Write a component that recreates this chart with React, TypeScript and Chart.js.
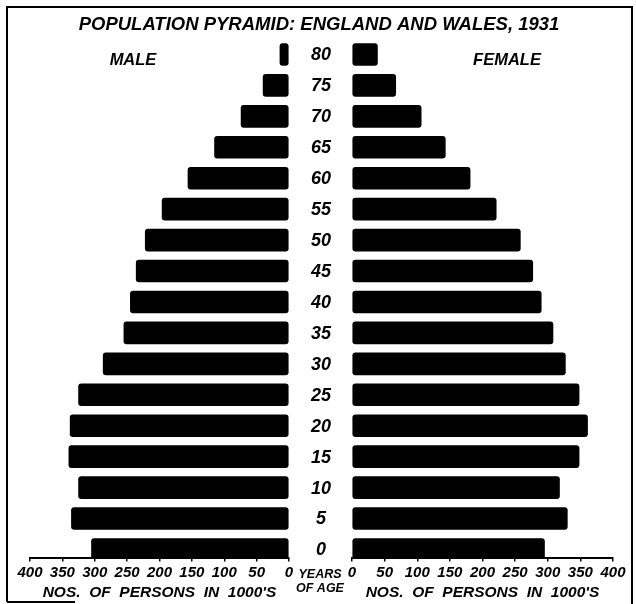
import React, { useEffect, useRef } from "react";
import { Chart, registerables } from "chart.js";

Chart.register(...registerables);

const AGES = [80, 75, 70, 65, 60, 55, 50, 45, 40, 35, 30, 25, 20, 15, 10, 5, 0];
const MALE = [14, 40, 74, 115, 156, 196, 222, 236, 245, 255, 287, 325, 338, 340, 325, 336, 305];
const FEMALE = [39, 67, 106, 143, 181, 221, 258, 277, 290, 308, 327, 348, 361, 348, 318, 330, 295];
const X_TICKS = [0, 50, 100, 150, 200, 250, 300, 350, 400];
const TITLE = "POPULATION PYRAMID: ENGLAND AND WALES, 1931";
const AXIS_TITLE = "NOS.  OF  PERSONS  IN  1000'S";
const MALE_LABEL = "MALE";
const FEMALE_LABEL = "FEMALE";
const AGE_TITLE = ["YEARS", "OF AGE"];

const FAMILY = '"Liberation Sans", Arial, sans-serif';
const W = 636;
const H = 604;

function font(size: number) {
  return `italic bold ${size}px ${FAMILY}`;
}

const textPlugin = {
  id: "pyramidText",
  afterDraw(chart: any) {
    const ctx = chart.ctx;
    const y = chart.scales.y;
    ctx.save();
    ctx.fillStyle = "#000";
    ctx.textAlign = "center";
    ctx.textBaseline = "middle";
    ctx.font = font(18.5);
    ctx.fillText(TITLE, 319, 25);
    ctx.font = font(16.5);
    ctx.fillText(MALE_LABEL, 133, 60);
    ctx.fillText(FEMALE_LABEL, 507, 60);
    ctx.font = font(18);
    AGES.forEach((a) => {
      ctx.fillText(String(a), 321, y.getPixelForValue(a) + 1);
    });
    ctx.font = font(12.5);
    ctx.fillText(AGE_TITLE[0], 320, 575);
    ctx.fillText(AGE_TITLE[1], 320, 589);
    // frame
    ctx.strokeStyle = "#000";
    ctx.lineWidth = 2;
    ctx.beginPath();
    ctx.moveTo(7, 602);
    ctx.lineTo(7, 7);
    ctx.lineTo(632, 7);
    ctx.lineTo(632, 604);
    ctx.moveTo(7, 602);
    ctx.lineTo(75, 602);
    ctx.stroke();
    ctx.restore();
  },
};

function makeConfig(values: number[], isMale: boolean, withText: boolean): any {
  const tickFont = { family: FAMILY, size: 15, style: "italic", weight: "bold", lineHeight: 1.0 };
  const titleFont = { family: FAMILY, size: 15.5, style: "italic", weight: "bold", lineHeight: 1.0 };
  return {
    type: "bar",
    data: {
      datasets: [
        {
          label: isMale ? MALE_LABEL : FEMALE_LABEL,
          data: AGES.map((a, i) => ({ x: values[i], y: a })),
          backgroundColor: "#000",
          borderWidth: 0,
          borderRadius: 3,
          borderSkipped: false,
          barThickness: 22,
        },
      ],
    },
    options: {
      indexAxis: "y",
      animation: false,
      responsive: false,
      devicePixelRatio: 1,
      layout: {
        padding: isMale
          ? { left: 30, right: W - 289, top: 39, bottom: 4 }
          : { left: 352, right: W - 613, top: 39, bottom: 4 },
      },
      plugins: {
        legend: { display: false },
        tooltip: { enabled: false },
        title: { display: false },
      },
      scales: {
        x: {
          type: "linear",
          min: 0,
          max: 400,
          reverse: isMale,
          afterBuildTicks: (s: any) => {
            s.ticks = X_TICKS.map((v) => ({ value: v }));
          },
          ticks: {
            color: "#000",
            font: tickFont,
            padding: 4,
            maxRotation: 0,
            autoSkip: false,
          },
          grid: {
            display: true,
            drawOnChartArea: false,
            drawTicks: true,
            tickLength: 4,
            color: "#000",
            lineWidth: 1.5,
          },
          border: { display: true, color: "#000", width: 2 },
          title: {
            display: true,
            text: AXIS_TITLE,
            color: "#000",
            font: titleFont,
            padding: { top: 0, bottom: 0 },
          },
        },
        y: {
          type: "linear",
          min: -1.3,
          max: 82.5,
          offset: false,
          display: false,
        },
      },
    },
    plugins: withText ? [textPlugin] : [],
  };
}

export default function App() {
  const leftRef = useRef<HTMLCanvasElement>(null);
  const rightRef = useRef<HTMLCanvasElement>(null);

  useEffect(() => {
    const c1 = new Chart(leftRef.current as HTMLCanvasElement, makeConfig(MALE, true, false));
    const c2 = new Chart(rightRef.current as HTMLCanvasElement, makeConfig(FEMALE, false, true));
    return () => {
      c1.destroy();
      c2.destroy();
    };
  }, []);

  const canvasStyle: React.CSSProperties = {
    position: "absolute",
    left: 0,
    top: 0,
    width: W,
    height: H,
  };

  return (
    <div
      style={{
        position: "fixed",
        left: 0,
        top: 0,
        width: W,
        height: H,
        background: "#fff",
      }}
    >
      <canvas ref={leftRef} width={W} height={H} style={canvasStyle} />
      <canvas ref={rightRef} width={W} height={H} style={canvasStyle} />
    </div>
  );
}
